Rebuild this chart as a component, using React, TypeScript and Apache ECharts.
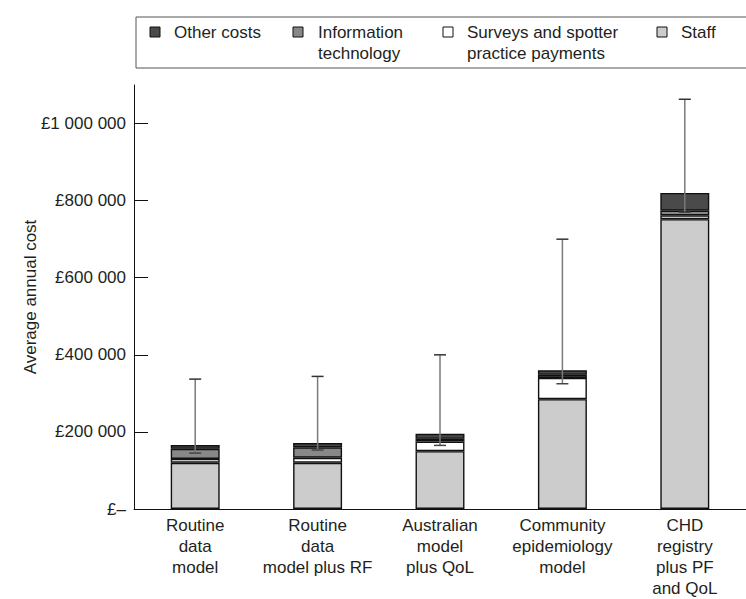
import React, { useEffect, useRef } from "react";
import * as echarts from "echarts";

const categories = [
  "Routine\ndata\nmodel",
  "Routine\ndata\nmodel plus RF",
  "Australian\nmodel\nplus QoL",
  "Community\nepidemiology\nmodel",
  "CHD\nregistry\nplus PF\nand QoL",
];
const staff = [120000, 120000, 150000, 285000, 752000];
const surveys = [10000, 13000, 25000, 55000, 10000];
const infoTech = [26000, 27000, 7000, 8000, 12000];
const otherCosts = [10000, 11000, 13000, 12000, 46000];
const errLow = [145000, 153000, 165000, 325000, 770000];
const errHigh = [337000, 344000, 400000, 700000, 1063000];
const yTicks = [0, 200000, 400000, 600000, 800000, 1000000];

const legendItems = [
  { name: "Other costs", color: "#4a4a4a", sx: 150, tx: 174 },
  { name: "Information\ntechnology", color: "#888888", sx: 293, tx: 318 },
  { name: "Surveys and spotter\npractice payments", color: "#ffffff", sx: 443, tx: 467 },
  { name: "Staff", color: "#cccccc", sx: 657, tx: 681 },
];

const FONT = "'Liberation Sans', Arial, Helvetica, sans-serif";
const TXT = "#231f20";

function fmt(v: number) {
  if (v === 0) return "£–";
  return "£" + String(v).replace(/\B(?=(\d{3})+(?!\d))/g, " ");
}

export default function App() {
  const ref = useRef<HTMLDivElement>(null);
  useEffect(() => {
    document.body.style.margin = "0";
    if (!ref.current) return;
    const chart = echarts.init(ref.current, undefined, { renderer: "svg" });
    const barStyle = (color: string) => ({
      color,
      borderColor: "#111",
      borderWidth: 1.4,
    });
    const graphic: any[] = [
      {
        type: "rect",
        shape: { x: 136, y: 17, width: 640, height: 51 },
        style: { fill: "#fff", stroke: "#555", lineWidth: 1 },
        z: 0,
      },
    ];
    legendItems.forEach((it) => {
      graphic.push({
        type: "rect",
        shape: { x: it.sx, y: 27, width: 10, height: 10 },
        style: { fill: it.color, stroke: "#111", lineWidth: 1 },
        z: 2,
      });
      graphic.push({
        type: "text",
        x: it.tx,
        y: 22,
        style: {
          text: it.name,
          font: `17px ${FONT}`,
          fill: TXT,
          lineHeight: 21,
          verticalAlign: "top",
        },
        z: 2,
      });
    });
    const option: any = {
      animation: false,
      backgroundColor: "#fff",
      textStyle: { fontFamily: FONT },
      grid: { left: 134, top: 85, bottom: 86, right: -3, containLabel: false },
      graphic,
      xAxis: {
        type: "category",
        data: categories,
        axisLine: { lineStyle: { color: "#111", width: 1 } },
        axisTick: { inside: true, length: 11, lineStyle: { color: "#111" } },
        axisLabel: {
          color: TXT,
          fontSize: 17,
          lineHeight: 21,
          margin: 6,
          interval: 0,
          fontFamily: FONT,
        },
      },
      yAxis: {
        type: "value",
        min: 0,
        max: 1100000,
        name: "Average annual cost",
        nameLocation: "middle",
        nameGap: 95,
        nameMoveOverlap: false,
        nameTextStyle: { color: TXT, fontSize: 17, fontFamily: FONT },
        splitLine: { show: false },
        axisLine: { show: true, lineStyle: { color: "#111", width: 1 } },
        axisTick: {
          show: true,
          inside: true,
          length: 14,
          customValues: yTicks,
          lineStyle: { color: "#111" },
        },
        axisLabel: {
          color: TXT,
          fontSize: 17,
          margin: 8,
          customValues: yTicks,
          formatter: (v: number) => fmt(v),
          fontFamily: FONT,
        },
      },
      series: [
        { name: "Staff", type: "bar", stack: "cost", barWidth: "40%", data: staff, itemStyle: barStyle("#cccccc") },
        { name: "Surveys and spotter practice payments", type: "bar", stack: "cost", data: surveys, itemStyle: barStyle("#ffffff") },
        { name: "Information technology", type: "bar", stack: "cost", data: infoTech, itemStyle: barStyle("#888888") },
        { name: "Other costs", type: "bar", stack: "cost", data: otherCosts, itemStyle: barStyle("#4a4a4a") },
        {
          name: "Range",
          type: "custom",
          z: 10,
          encode: { x: 0, y: [1, 2] },
          data: categories.map((_, i) => [i, errLow[i], errHigh[i]]),
          renderItem: (params: any, api: any) => {
            const x = api.value(0);
            const pLo = api.coord([x, api.value(1)]);
            const pHi = api.coord([x, api.value(2)]);
            const hw = 6;
            return {
              type: "group",
              children: [
                { type: "line", shape: { x1: pLo[0], y1: pLo[1], x2: pHi[0], y2: pHi[1] }, style: { stroke: "#7a7a7a", lineWidth: 1.5 } },
                { type: "line", shape: { x1: pHi[0] - hw, y1: pHi[1], x2: pHi[0] + hw, y2: pHi[1] }, style: { stroke: "#333", lineWidth: 1.5 } },
                { type: "line", shape: { x1: pLo[0] - hw, y1: pLo[1], x2: pLo[0] + hw, y2: pLo[1] }, style: { stroke: "#444", lineWidth: 1.5 } },
              ],
            };
          },
        },
      ],
    };
    chart.setOption(option);
    return () => chart.dispose();
  }, []);
  return <div ref={ref} style={{ width: 746, height: 599 }} />;
}
